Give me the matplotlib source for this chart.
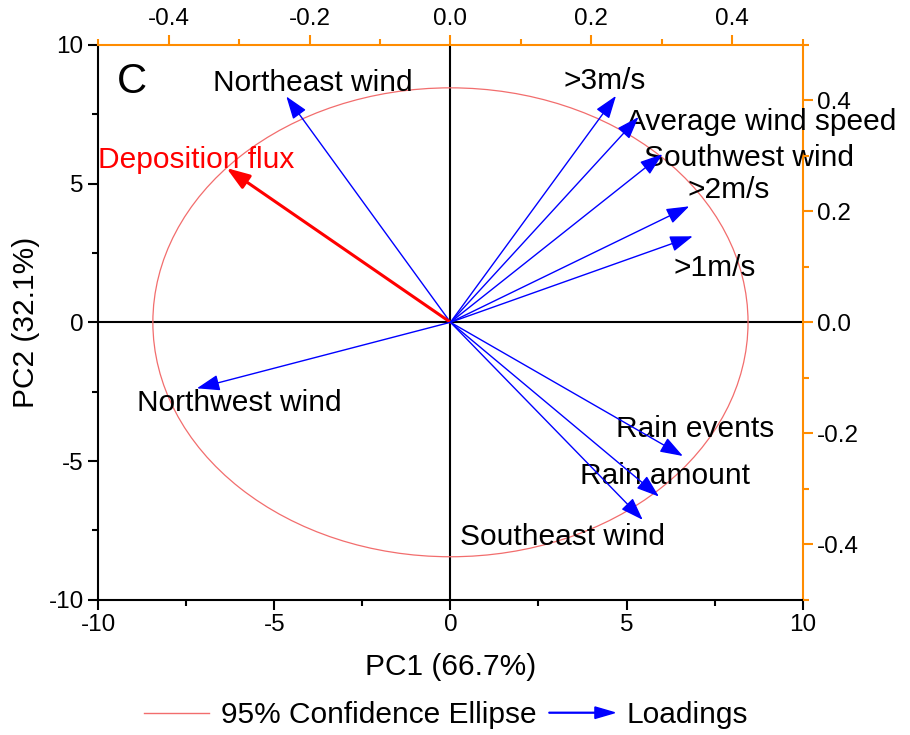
import matplotlib
matplotlib.use('Agg')
import matplotlib.pyplot as plt
from matplotlib.patches import Ellipse, FancyArrow, Patch
from matplotlib.lines import Line2D
from matplotlib.legend_handler import HandlerPatch
from matplotlib.ticker import MultipleLocator, FormatStrFormatter

plt.rcParams['font.family'] = ['Liberation Sans', 'DejaVu Sans']
plt.rcParams['axes.unicode_minus'] = False

# loadings (top / right axes, -0.5..0.5)
variables = ['Northeast wind', 'Deposition flux', 'Northwest wind', '>3m/s',
             'Average wind speed', 'Southwest wind', '>2m/s', '>1m/s',
             'Rain events', 'Rain amount', 'Southeast wind']
load_pc1 = [-0.233, -0.318, -0.360, 0.235, 0.267, 0.301, 0.339, 0.344, 0.330, 0.296, 0.273]
load_pc2 = [0.407, 0.278, -0.119, 0.408, 0.370, 0.303, 0.209, 0.155, -0.241, -0.314, -0.356]
highlight = 'Deposition flux'

# 95% confidence ellipse half-widths in score units
ell_rx, ell_ry = 8.45, 8.45

# where each label sits (score units)
label_pos = {
    'Northeast wind': (-3.92, 8.63),
    'Deposition flux': (-7.23, 5.85),
    'Northwest wind': (-5.99, -2.90),
    '>3m/s': (4.37, 8.70),
    'Average wind speed': (8.82, 7.22),
    'Southwest wind': (8.48, 5.93),
    '>2m/s': (7.91, 4.77),
    '>1m/s': (7.49, 1.96),
    'Rain events': (6.95, -3.84),
    'Rain amount': (6.10, -5.53),
    'Southeast wind': (3.18, -7.73),
}

ORANGE = '#ff8c00'
LABEL_FS = 21.5
TICK_FS = 17.5

fig = plt.figure(figsize=(9.1, 7.35), dpi=100)
rect = [0.108, 0.184, 0.774, 0.755]
ax = fig.add_axes(rect)
ax.set_xlim(-10, 10)
ax.set_ylim(-10, 10)
ax.xaxis.set_major_locator(MultipleLocator(5))
ax.xaxis.set_minor_locator(MultipleLocator(2.5))
ax.yaxis.set_major_locator(MultipleLocator(5))
ax.yaxis.set_minor_locator(MultipleLocator(2.5))
ax.tick_params(which='both', direction='out', labelsize=TICK_FS, width=1.5, top=False, right=False)
ax.tick_params(which='major', length=7)
ax.tick_params(which='minor', length=4)
for s in ['left', 'bottom']:
    ax.spines[s].set_linewidth(1.5)
for s in ['top', 'right']:
    ax.spines[s].set_color(ORANGE)
    ax.spines[s].set_linewidth(1.5)
ax.set_xlabel('PC1 (66.7%)', fontsize=LABEL_FS, labelpad=12)
ax.set_ylabel('PC2 (32.1%)', fontsize=LABEL_FS, labelpad=6)

ax.axhline(0, color='black', lw=1.5, zorder=1)
ax.axvline(0, color='black', lw=1.5, zorder=1)
ax.add_patch(Ellipse((0, 0), 2 * ell_rx, 2 * ell_ry, fill=False,
                     edgecolor='#f26d6d', lw=0.9, zorder=2))

# loadings axes on top/right
ax2 = fig.add_axes(rect, frameon=False)
ax2.patch.set_alpha(0)
ax2.set_xlim(-0.5, 0.5)
ax2.set_ylim(-0.5, 0.5)
ax2.xaxis.tick_top()
ax2.yaxis.tick_right()
ax2.xaxis.set_major_locator(MultipleLocator(0.2))
ax2.xaxis.set_minor_locator(MultipleLocator(0.1))
ax2.yaxis.set_major_locator(MultipleLocator(0.2))
ax2.yaxis.set_minor_locator(MultipleLocator(0.1))
ax2.tick_params(which='both', direction='out', color=ORANGE, width=1.5,
                labelcolor='black', labelsize=TICK_FS)
ax2.tick_params(which='major', length=7)
ax2.tick_params(which='minor', length=4)
ax2.xaxis.set_major_formatter(FormatStrFormatter('%.1f'))
ax2.yaxis.set_major_formatter(FormatStrFormatter('%.1f'))

for name, lx, ly in zip(variables, load_pc1, load_pc2):
    c = 'red' if name == highlight else 'blue'
    lw = 2.2 if name == highlight else 1.0
    ax2.annotate('', xy=(lx, ly), xytext=(0, 0),
                 arrowprops=dict(arrowstyle='-|>,head_length=1.0,head_width=0.35',
                                 mutation_scale=14, color=c, lw=lw,
                                 shrinkA=0, shrinkB=0))
    tx, ty = label_pos[name]
    ax.text(tx, ty, name, fontsize=LABEL_FS, color=c if name == highlight else 'black',
            ha='center', va='center', zorder=5)

ax.text(-9.05, 8.65, 'C', fontsize=30, ha='center', va='center')


def arrow_handle(legend, orig_handle, xdescent, ydescent, width, height, fontsize):
    return FancyArrow(-xdescent, height / 2 - ydescent, width, 0,
                      length_includes_head=True, width=0.6,
                      head_width=height * 0.55, head_length=width * 0.3,
                      color='blue')


ell_h = Line2D([], [], color='#f26d6d', lw=1.0)
arr_h = Patch(color='blue')
fig.legend([ell_h, arr_h], ['95% Confidence Ellipse', 'Loadings'],
           handler_map={arr_h: HandlerPatch(patch_func=arrow_handle)},
           loc='center', bbox_to_anchor=(0.49, 0.027), ncol=2, frameon=False,
           fontsize=LABEL_FS, handlelength=2.2, handletextpad=0.4, columnspacing=0.4)

fig.savefig('out.png', dpi=100)
